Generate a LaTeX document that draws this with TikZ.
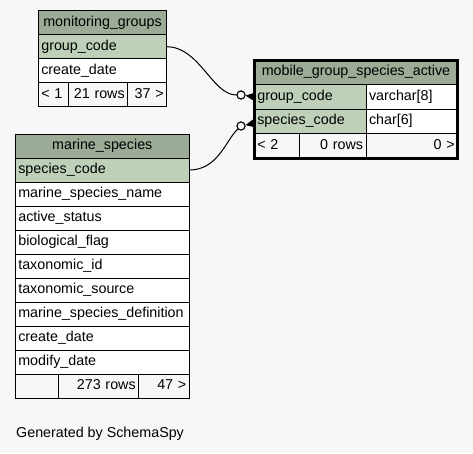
\documentclass[tikz,border=0pt]{standalone}
\usepackage{fontspec}
\setmainfont{Liberation Sans}
\usetikzlibrary{positioning, fit, arrows.meta}
\definecolor{PageGray}{HTML}{F7F7F7}
\definecolor{HeadGreen}{HTML}{9BAB96}
\definecolor{KeyGreen}{HTML}{BED1B8}

\begin{document}
\begin{tikzpicture}[x=1pt, y=-1pt,
  node distance=0pt,
  tblcell/.style={draw=black, line width=1pt, outer sep=0pt, inner xsep=3pt,
    inner ysep=0pt, minimum height=24pt, text height=10pt, text depth=3pt,
    font=\fontsize{14.3}{16}\selectfont, anchor=north west},
  headcell/.style={tblcell, fill=HeadGreen, align=center},
  keycell/.style={tblcell, fill=KeyGreen, align=left},
  rowcell/.style={tblcell, fill=white, align=left},
  footcell/.style={tblcell, fill=PageGray},
  link/.style={black, line width=1pt},
  crowfoot/.style={-{Triangle[length=9pt, width=8pt]}, black, line width=1pt},
  odot/.style={circle, draw=black, fill=PageGray, line width=1pt, inner sep=0pt, minimum size=8pt}
]
  \fill[PageGray] (0,0) rectangle (473,453);
  \useasboundingbox (0,0) rectangle (473,453);

  % monitoring_groups
  \node[headcell, text width=122.4pt] (mgHead) at (38.3,10.7) {monitoring\_groups};
  \node[keycell, text width=122.4pt, below=of mgHead] (mgGroup) {group\_code};
  \node[rowcell, text width=122.4pt, below=of mgGroup] (mgCreate) {create\_date};
  \node[footcell, text width=24pt, align=left] (mgParents) at (mgCreate.south west) {< 1};
  \node[footcell, text width=53.4pt, align=right, right=of mgParents] (mgRows) {21 rows};
  \node[footcell, text width=33pt, align=right, right=of mgRows] (mgChildren) {37 >};

  % mobile_group_species_active
  \node[headcell, text width=197.4pt, minimum height=24.5pt] (mgsaHead) at (254.3,60) {mobile\_group\_species\_active};
  \node[keycell, text width=105.7pt, minimum height=24.5pt] (mgsaGroup) at (mgsaHead.south west) {group\_code};
  \node[rowcell, text width=85.7pt, minimum height=24.5pt, right=of mgsaGroup] (mgsaGroupType) {varchar[8]};
  \node[keycell, text width=105.7pt, minimum height=24.5pt, below=of mgsaGroup] (mgsaSpecies) {species\_code};
  \node[rowcell, text width=85.7pt, minimum height=24.5pt, right=of mgsaSpecies] (mgsaSpeciesType) {char[6]};
  \node[footcell, text width=39pt, minimum height=24.5pt, align=left] (mgsaParents) at (mgsaSpecies.south west) {< 2};
  \node[footcell, text width=60.7pt, minimum height=24.5pt, align=right, right=of mgsaParents] (mgsaRows) {0 rows};
  \node[footcell, text width=85.7pt, minimum height=24.5pt, align=right, right=of mgsaRows] (mgsaChildren) {0 >};
  \node[fit=(mgsaHead)(mgsaChildren), draw=black, line width=3pt, inner sep=0pt] (mgsaFrame) {};

  % marine_species
  \node[headcell, text width=168pt] (msHead) at (15.3,134) {marine\_species};
  \node[keycell, text width=168pt, below=of msHead] (msCode) {species\_code};
  \node[rowcell, text width=168pt, below=of msCode] (msName) {marine\_species\_name};
  \node[rowcell, text width=168pt, below=of msName] (msActive) {active\_status};
  \node[rowcell, text width=168pt, below=of msActive] (msBio) {biological\_flag};
  \node[rowcell, text width=168pt, below=of msBio] (msTaxId) {taxonomic\_id};
  \node[rowcell, text width=168pt, below=of msTaxId] (msTaxSrc) {taxonomic\_source};
  \node[rowcell, text width=168pt, below=of msTaxSrc] (msDef) {marine\_species\_definition};
  \node[rowcell, text width=168pt, below=of msDef] (msCreate) {create\_date};
  \node[rowcell, text width=168pt, below=of msCreate] (msModify) {modify\_date};
  \node[footcell, text width=37.4pt, align=left] (msParents) at (msModify.south west) {};
  \node[footcell, text width=74pt, align=right, right=of msParents] (msRows) {273 rows};
  \node[footcell, text width=44.6pt, align=right, right=of msRows] (msChildren) {47 >};

  % relationships
  \node[odot] (dotGroup) at (241,95) {};
  \node[odot] (dotSpecies) at (241,126) {};
  \draw[link] (mgGroup.east) .. controls (200,47) and (212,95) .. (dotGroup);
  \draw[link] (msCode.east) .. controls (218,170) and (226,140) .. (dotSpecies);
  \draw[crowfoot] (mgsaGroup.west) -- (dotGroup);
  \draw[crowfoot] ([yshift=-2pt]mgsaSpecies.west) -- (dotSpecies);
  \node[odot] at (dotGroup) {};
  \node[odot] at (dotSpecies) {};

  \node[anchor=west, inner sep=0pt, font=\fontsize{14.3}{16}\selectfont] (credit) at (16,434) {Generated by SchemaSpy};
\end{tikzpicture}
\end{document}
